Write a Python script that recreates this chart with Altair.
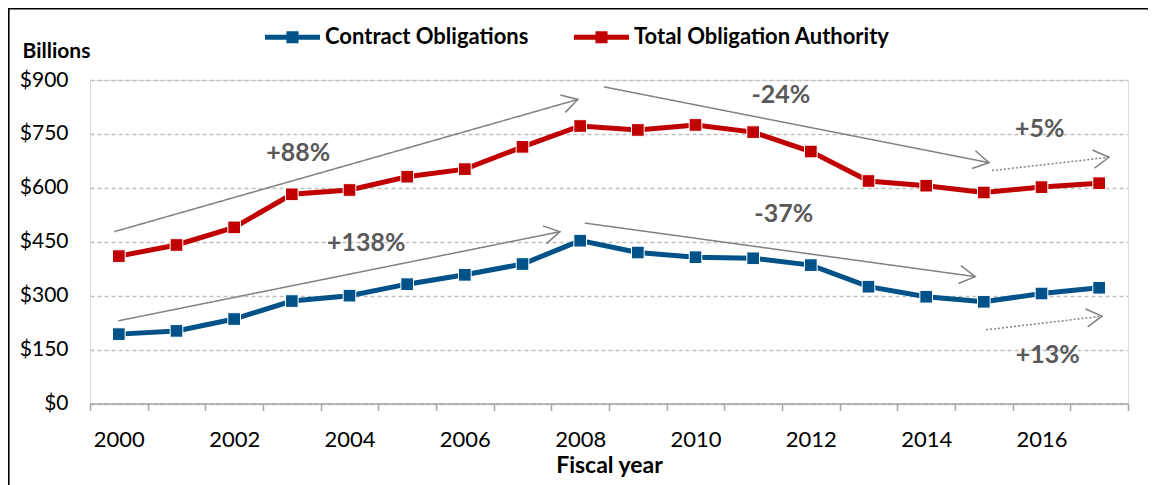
import math
import altair as alt
import pandas as pd

# ---- data ----
years = list(range(2000, 2018))
contract_obligations = [193, 202, 235, 285, 300, 332, 358, 388, 453, 420, 407, 404, 385, 325, 297, 283, 306, 322]
total_obligation_authority = [410, 441, 490, 582, 594, 631, 652, 714, 772, 761, 775, 755, 701, 619, 606, 587, 602, 613]
series_names = ["Contract Obligations", "Total Obligation Authority"]
series_colors = ["#005288", "#C00000"]

y_ticks = [0, 150, 300, 450, 600, 750, 900]
x_boundaries = [1999.5 + i for i in range(19)]

# trend arrows (data coordinates)
arrow_x1 = [1999.92, 2008.41, 2015.14, 1999.99, 2008.08, 2015.04]
arrow_y1 = [478, 881, 648, 230, 502, 205]
arrow_x2 = [2007.96, 2015.09, 2017.17, 2007.65, 2014.85, 2017.05]
arrow_y2 = [846, 670, 685, 478, 353, 243]
arrow_style = ["solid", "solid", "dotted", "solid", "solid", "dotted"]

note_text = ["+88%", "-24%", "+5%", "+138%", "-37%", "+13%"]
note_x = [2003.11, 2011.48, 2015.97, 2004.29, 2011.53, 2016.11]
note_y = [697, 858, 764, 447, 527, 135]

# ---- layout ----
W, H = 1038, 323.5
X_DOMAIN = [1999.5, 2017.5]
Y_DOMAIN = [0, 900]
FONT = "Lato"
GRAY = "#808080"

df = pd.DataFrame({
    "year": years * 2,
    "value": contract_obligations + total_obligation_authority,
    "series": [series_names[0]] * len(years) + [series_names[1]] * len(years),
})

px_x = W / (X_DOMAIN[1] - X_DOMAIN[0])
px_y = H / (Y_DOMAIN[1] - Y_DOMAIN[0])
angles = []
for a, b, c, d in zip(arrow_x1, arrow_y1, arrow_x2, arrow_y2):
    ang = math.degrees(math.atan2(-(d - b) * px_y, (c - a) * px_x)) % 360
    angles.append(ang)

arrows = pd.DataFrame({
    "x1": arrow_x1, "y1": arrow_y1, "x2": arrow_x2, "y2": arrow_y2,
    "style": arrow_style, "ang": angles,
})
notes = pd.DataFrame({"text": note_text, "x": note_x, "y": note_y})

x_scale = alt.Scale(domain=X_DOMAIN, nice=False, zero=False)
y_scale = alt.Scale(domain=Y_DOMAIN, nice=False)

x_axis = alt.Axis(
    values=x_boundaries,
    labelExpr="((datum.value + 0.5) % 2 == 0 && datum.value < 2017) ? '' + (datum.value + 0.5) : ''",
    labelOffset=W / 18 / 2,
    labelFlush=False,
    labelOverlap=False,
    labelFont=FONT, labelFontSize=22, labelColor="#000000", labelPadding=19,
    tickSize=7, tickColor="#A6A6A6", tickWidth=1.5,
    domainColor="#A6A6A6", domainWidth=1.5,
    grid=False,
    title="Fiscal year", titleFont=FONT, titleFontSize=23, titleFontWeight="bold",
    titleColor="#000000", titlePadding=4,
)
y_axis = alt.Axis(
    values=y_ticks,
    labelExpr="'$' + datum.value",
    labelFont=FONT, labelFontSize=21, labelColor="#000000", labelPadding=22,
    domain=False, ticks=False,
    grid=True, gridColor="#BFBFBF", gridDash=[4, 3], gridWidth=1.3,
    title="Billions", titleAngle=0, titleAlign="left", titleBaseline="alphabetic",
    titleX=-68, titleY=-23, titleFont=FONT, titleFontSize=21, titleFontWeight="bold",
    titleColor="#000000",
)

legend_symbol = ("M-1,-0.09 L-0.22,-0.09 L-0.22,-0.22 L0.22,-0.22 L0.22,-0.09 L1,-0.09 "
                 "L1,0.09 L0.22,0.09 L0.22,0.22 L-0.22,0.22 L-0.22,0.09 L-1,0.09 Z")

# line layer: stroke scale without explicit domain (sorted names -> same order as series_colors)
lines = alt.Chart(df).mark_line(strokeWidth=5).encode(
    x=alt.X("year:Q", scale=x_scale, axis=x_axis),
    y=alt.Y("value:Q", scale=y_scale, axis=y_axis),
    stroke=alt.Stroke("series:N", scale=alt.Scale(range=series_colors), legend=None),
)

points = alt.Chart(df).mark_square(size=160, filled=True, opacity=1, stroke="white", strokeWidth=1).encode(
    x=alt.X("year:Q", scale=x_scale),
    y=alt.Y("value:Q", scale=y_scale),
    color=alt.Color(
        "series:N",
        scale=alt.Scale(domain=series_names, range=series_colors),
        legend=alt.Legend(
            orient="none", legendX=175, legendY=-70.5, direction="horizontal",
            title=None, symbolType=legend_symbol, symbolSize=3025, symbolStrokeWidth=0,
            symbolOpacity=1,
            labelFont=FONT, labelFontSize=22, labelFontWeight="bold", labelColor="#000000",
            labelLimit=500,
            columnPadding=45, labelOffset=5, padding=0,
        ),
    ),
)

arrow_lines = alt.Chart(arrows).mark_rule(color=GRAY, strokeWidth=1.5).encode(
    x=alt.X("x1:Q", scale=x_scale),
    y=alt.Y("y1:Q", scale=y_scale),
    x2="x2:Q",
    y2="y2:Q",
    strokeDash=alt.StrokeDash("style:N", scale=alt.Scale(domain=["solid", "dotted"], range=[[1, 0], [2, 2]]), legend=None),
)

arrow_heads = alt.Chart(arrows).mark_point(
    shape="M-1,-0.58 L0,0 L-1,0.58", filled=False, color=GRAY, strokeWidth=1.5, size=973, opacity=1,
).encode(
    x=alt.X("x2:Q", scale=x_scale),
    y=alt.Y("y2:Q", scale=y_scale),
    angle=alt.Angle("ang:Q", scale=None),
)

note_marks = alt.Chart(notes).mark_text(font=FONT, fontSize=25, fontWeight="bold", color="#595959").encode(
    x=alt.X("x:Q", scale=x_scale),
    y=alt.Y("y:Q", scale=y_scale),
    text="text:N",
)

frame_df = pd.DataFrame({"k": [0]})
frame_left = alt.Chart(frame_df).mark_rule(color="#000000", strokeWidth=1.6).encode(
    x=alt.value(-81.2), y=alt.value(-72), y2=alt.value(420),
)
frame_top = alt.Chart(frame_df).mark_rule(color="#000000", strokeWidth=1.6).encode(
    y=alt.value(-71.2), x=alt.value(-82), x2=alt.value(1100),
)

chart = alt.layer(
    arrow_lines, arrow_heads, note_marks, lines, points, frame_left, frame_top
).properties(
    width=W, height=H,
    autosize=alt.AutoSizeParams(type="none"),
    padding={"left": 82, "top": 72, "right": 20, "bottom": 81},
).configure_view(stroke=None).configure(background="white")

chart.save("out.html", embed_options={"renderer": "svg", "actions": False})
